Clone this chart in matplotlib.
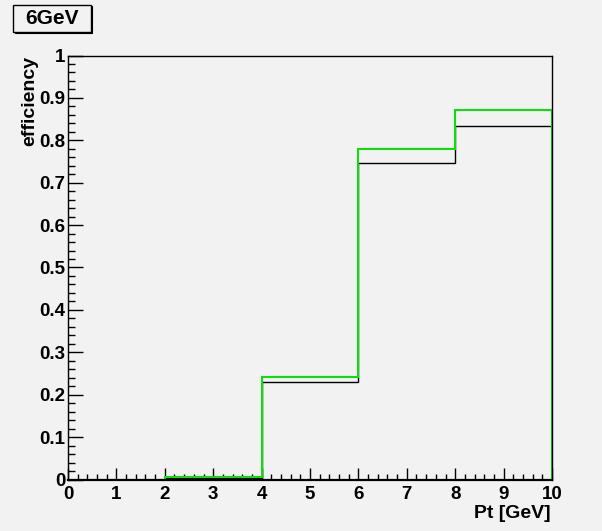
import matplotlib
matplotlib.use("Agg")
import matplotlib.pyplot as plt
from matplotlib.patches import Rectangle
from matplotlib.ticker import MultipleLocator

# Histogram binning and per-bin efficiencies
bin_edges = [0, 2, 4, 6, 8, 10]
eff_black = [0.0, 0.003, 0.230, 0.746, 0.834]
eff_green = [0.0, 0.005, 0.242, 0.780, 0.871]

title_text = "6GeV"
x_label = "Pt [GeV]"
y_label = "efficiency"

BG = "#f2f2f2"
W, H = 602, 531
plt.rcParams["font.family"] = ["Liberation Sans", "DejaVu Sans"]
plt.rcParams["font.weight"] = "bold"

fig = plt.figure(figsize=(W / 100, H / 100), dpi=100, facecolor=BG)
ax = fig.add_axes([68 / W, 1 - 479.5 / H, (552 - 68) / W, (479.5 - 55.5) / H])
ax.set_facecolor(BG)

ax.stairs(eff_black, bin_edges, color="black", linewidth=1.0, zorder=3)
ax.stairs(eff_green, bin_edges, color="#10dd10", linewidth=1.5, zorder=4)

ax.set_xlim(0, 10)
ax.set_ylim(0, 1)
ax.xaxis.set_major_locator(MultipleLocator(1))
ax.xaxis.set_minor_locator(MultipleLocator(0.2))
ax.yaxis.set_major_locator(MultipleLocator(0.1))
ax.yaxis.set_minor_locator(MultipleLocator(0.02))

ax.xaxis.set_major_formatter(plt.FuncFormatter(lambda v, p: f"{v:g}"))
ax.yaxis.set_major_formatter(plt.FuncFormatter(lambda v, p: f"{v:g}"))

ax.tick_params(axis="x", which="major", direction="in", length=8.6, width=1,
               labelsize=13.5, pad=4.5, top=False)
ax.tick_params(axis="x", which="minor", direction="in", length=4.3, width=1, top=False)
ax.tick_params(axis="y", which="major", direction="in", length=10.5, width=1,
               labelsize=13.5, pad=2, right=False)
ax.tick_params(axis="y", which="minor", direction="in", length=5, width=1, right=False)
for lab in ax.get_xticklabels() + ax.get_yticklabels():
    lab.set_fontweight("bold")

for side, sp in ax.spines.items():
    sp.set_color("black")
    sp.set_linewidth(1.0)
    sp.set_zorder(5)
ax.spines["bottom"].set_linewidth(1.6)

fig.text(551 / W, 1 - 513 / H, x_label, ha="right", va="center",
         fontsize=14, fontweight="bold")
fig.text(30 / W, 1 - 56 / H, y_label, ha="center", va="top", rotation=90,
         fontsize=14, fontweight="bold")

# Title box with a drop shadow
x0, x1, y0, y1 = 13, 90.5, 4.7, 31.5
fig.patches.append(Rectangle((x0 + 1.5 / 1, 1 - (y1 + 1.5) / H * 1) if False else ((x0 + 1.5) / W, 1 - (y1 + 1.5) / H),
                             (x1 - x0) / W, (y1 - y0) / H, transform=fig.transFigure,
                             facecolor="black", edgecolor="black", linewidth=0.8, zorder=1))
fig.patches.append(Rectangle((x0 / W, 1 - y1 / H), (x1 - x0) / W, (y1 - y0) / H,
                             transform=fig.transFigure, facecolor=BG,
                             edgecolor="black", linewidth=1.0, zorder=2))
fig.text((x0 + x1) / 2 / W, 1 - 18.5 / H, title_text, ha="center", va="center",
         fontsize=15, fontweight="bold", zorder=3)

fig.savefig("out.png", dpi=100, facecolor=BG)
